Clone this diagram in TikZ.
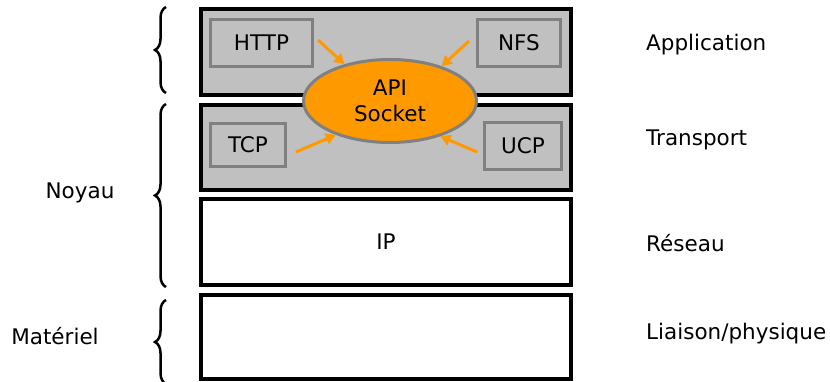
\documentclass[tikz,border=0pt]{standalone}
\usepackage{fontspec}
\setmainfont{DejaVu Sans}
\usetikzlibrary{shapes.geometric,arrows.meta,decorations.pathreplacing}
\definecolor{boxgray}{HTML}{C0C0C0}
\definecolor{edgegray}{HTML}{808080}
\definecolor{apiorange}{HTML}{FF9900}
\begin{document}
\begin{tikzpicture}[x=1pt,y=-1pt,
  every node/.style={font=\fontsize{21.5}{25}\selectfont},
  layer/.style={draw=black,line width=4pt,rectangle,inner sep=0pt,minimum width=370pt},
  proto/.style={draw=edgegray,fill=boxgray,line width=3pt,rectangle,inner sep=0pt},
  apiell/.style={ellipse,draw=edgegray,fill=apiorange,line width=3pt,inner sep=0pt,minimum width=173pt,minimum height=83pt,align=center},
  feed/.style={draw=apiorange,line width=3pt,-{Triangle[length=10pt,width=11pt]}},
  lbl/.style={anchor=west,inner sep=0pt},
  bracebig/.style={draw=black,line width=2.5pt,decorate,decoration={brace,amplitude=11pt}}
]
\useasboundingbox (0,0) rectangle (830,382);
% layers
\node[layer,fill=boxgray,minimum height=86pt] (app) at (386,52) {};
\node[layer,fill=boxgray,minimum height=85pt] (trans) at (386,147.5) {};
\node[layer,fill=white,minimum height=86pt] (ip) at (386,242) {IP};
\node[layer,fill=white,minimum height=84pt] (phy) at (386,337) {};
% protocol boxes
\node[proto,minimum width=102pt,minimum height=47pt] (http) at (261.5,43) {HTTP};
\node[proto,minimum width=83pt,minimum height=47pt] (nfs) at (519,43) {NFS};
\node[proto,minimum width=75pt,minimum height=43pt] (tcp) at (248,145) {TCP};
\node[proto,minimum width=77pt,minimum height=47pt] (ucp) at (523,146) {UCP};
% API socket
\node[apiell] (api) at (390,101) {API\\[1pt]Socket};
% arrows
\draw[feed] ([shift={(4,-3)}]http.east) -- (api.141);
\draw[feed] ([shift={(-7,-2)}]nfs.west) -- (api.34);
\draw[feed] ([shift={(9,7)}]tcp.east) -- (api.212);
\draw[feed] ([shift={(-6,6)}]ucp.west) -- (api.325);
% braces
\coordinate (b1t) at (166,7);
\coordinate (b1b) at (166,93);
\coordinate (b2t) at (166,104);
\coordinate (b2b) at (166,287);
\coordinate (b3t) at (166,300);
\coordinate (b3b) at (166,384);
\draw[bracebig] (b1b) -- (b1t);
\draw[bracebig] (b2b) -- (b2t);
\draw[bracebig] (b3b) -- (b3t);
% side labels
\node (noyau) at (80,193) {Noyau};
\node (materiel) at (55,336) {Matériel};
\node[lbl] (lapp) at (646,45) {Application};
\node[lbl] (ltrans) at (646,140) {Transport};
\node[lbl] (lres) at (646,243) {Réseau};
\node[lbl] (lliai) at (646,334) {Liaison/physique};
\end{tikzpicture}
\end{document}
